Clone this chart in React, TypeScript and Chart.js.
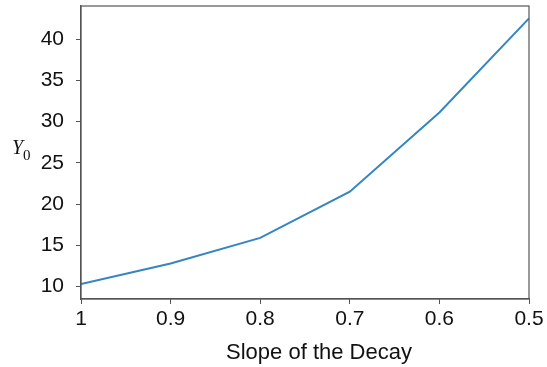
import React, { useEffect, useRef } from "react";
import { Chart, registerables } from "chart.js";

Chart.register(...registerables);

const slopes = [1, 0.9, 0.8, 0.7, 0.6, 0.5];
const y0Values = [10.3, 12.8, 15.9, 21.5, 31.1, 42.5];
const yTicks = [10, 15, 20, 25, 30, 35, 40];
const xTitle = "Slope of the Decay";
const yTitleMain = "Y";
const yTitleSub = "0";

const FONT = "'Liberation Sans', Arial, sans-serif";
const AXIS_COLOR = "#555555";

export default function App() {
  const ref = useRef<HTMLCanvasElement | null>(null);

  useEffect(() => {
    if (!ref.current) return;
    const framePlugin = {
      id: "frame",
      afterDraw(chart: any) {
        const { ctx, chartArea } = chart;
        ctx.save();
        ctx.strokeStyle = AXIS_COLOR;
        ctx.lineWidth = 1.2;
        ctx.strokeRect(chartArea.left, chartArea.top, chartArea.right - chartArea.left, chartArea.bottom - chartArea.top);
        ctx.fillStyle = "#111";
        ctx.font = `22px ${FONT}`;
        ctx.textAlign = "center";
        ctx.textBaseline = "middle";
        ctx.fillText(xTitle, 319, 353);
        ctx.textAlign = "left";
        ctx.textBaseline = "alphabetic";
        ctx.font = `italic 20px 'Liberation Serif', serif`;
        ctx.fillText(yTitleMain, 12, 154);
        ctx.font = `15px 'Liberation Serif', serif`;
        ctx.fillText(yTitleSub, 23, 160);
        ctx.restore();
      },
    };

    const chart = new Chart(ref.current, {
      type: "line",
      data: {
        datasets: [
          {
            data: slopes.map((s, i) => ({ x: s, y: y0Values[i] })),
            borderColor: "#3585c3",
            borderWidth: 2,
            pointRadius: 0,
            tension: 0,
            fill: false,
          },
        ],
      },
      options: {
        responsive: false,
        animation: false,
        layout: { padding: { top: 6, right: 18, left: 0, bottom: 0 } },
        plugins: { legend: { display: false }, tooltip: { enabled: false } },
        scales: {
          x: {
            type: "linear",
            reverse: true,
            min: 0.5,
            max: 1,
            afterFit(scale: any) {
              scale.height = 68;
              scale.paddingLeft = 0;
              scale.paddingRight = 0;
            },
            afterBuildTicks(scale: any) {
              scale.ticks = slopes.map((v) => ({ value: v }));
            },
            ticks: {
              color: "#111",
              font: { family: FONT, size: 21 },
              padding: 3,
              maxRotation: 0,
              callback: (v: any) => String(Math.round(Number(v) * 10) / 10),
            },
            grid: {
              display: true,
              drawOnChartArea: false,
              drawTicks: true,
              tickLength: 5,
              color: AXIS_COLOR,
            },
            border: { display: true, color: AXIS_COLOR, width: 1.2 },
          },
          y: {
            type: "linear",
            min: 8.5,
            max: 44,
            afterFit(scale: any) {
              scale.width = 81;
              scale.paddingTop = 0;
              scale.paddingBottom = 0;
            },
            afterBuildTicks(scale: any) {
              scale.ticks = yTicks.map((v) => ({ value: v }));
            },
            ticks: {
              color: "#111",
              font: { family: FONT, size: 21 },
              padding: 12,
            },
            grid: {
              display: true,
              drawOnChartArea: false,
              drawTicks: true,
              tickLength: 5,
              color: AXIS_COLOR,
            },
            border: { display: true, color: AXIS_COLOR, width: 1.2 },
          },
        },
      },
      plugins: [framePlugin],
    });
    return () => chart.destroy();
  }, []);

  return (
    <div style={{ position: "fixed", left: 0, top: 0, width: 547, height: 367, background: "#fff" }}>
      <canvas ref={ref} width={547} height={367} />
    </div>
  );
}
